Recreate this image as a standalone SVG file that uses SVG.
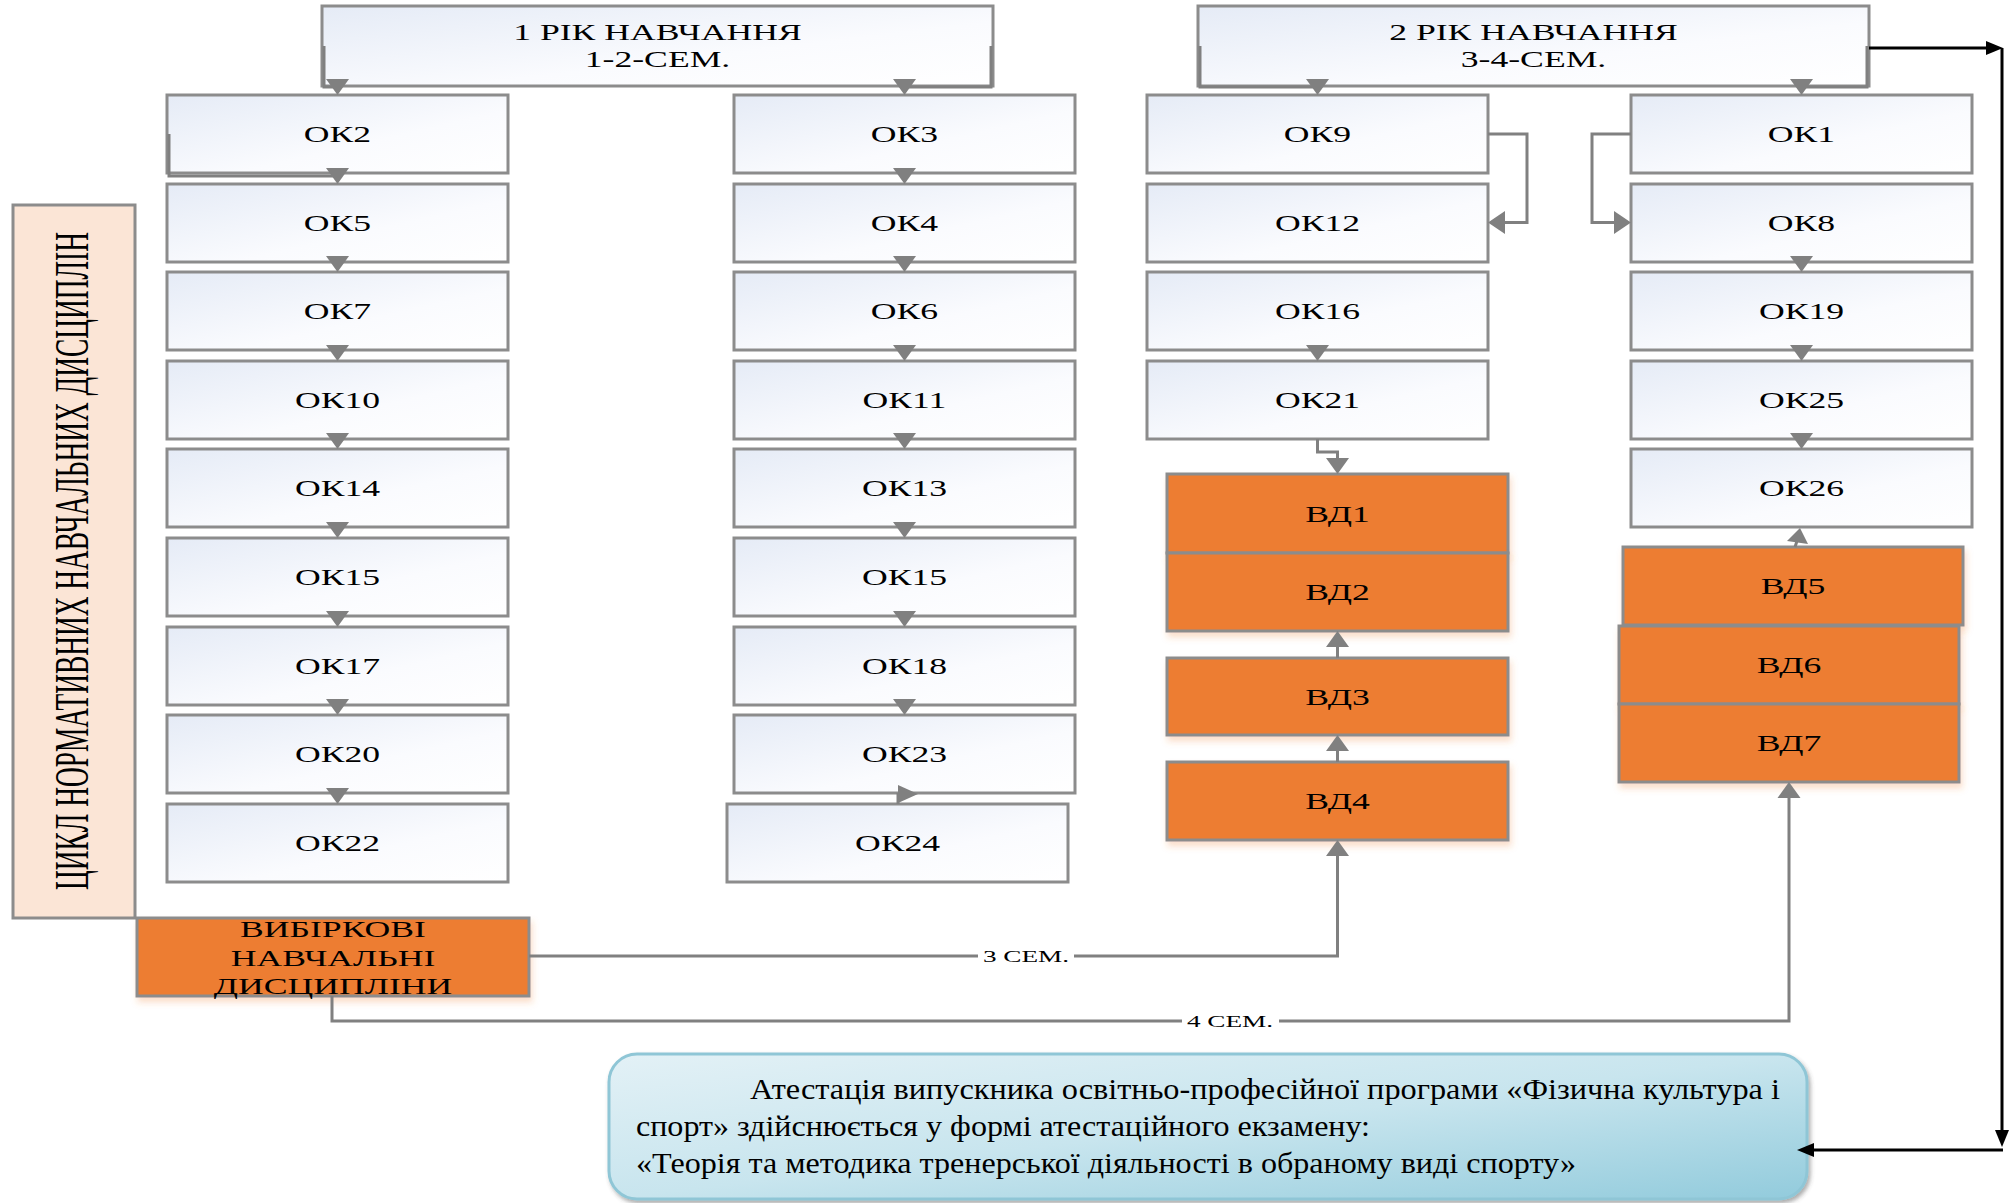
<svg xmlns="http://www.w3.org/2000/svg" width="2011" height="1203" viewBox="0 0 2011 1203">
<defs>
<linearGradient id="gBox" x1="0" y1="0" x2="1" y2="1">
<stop offset="0" stop-color="#E5EBF6"/>
<stop offset="0.6" stop-color="#FAFBFE"/>
<stop offset="1" stop-color="#FFFFFF"/>
</linearGradient>
<linearGradient id="gAtt" x1="0" y1="0" x2="1" y2="1">
<stop offset="0" stop-color="#E3F1F6"/>
<stop offset="0.5" stop-color="#C8E5EE"/>
<stop offset="1" stop-color="#92CBDC"/>
</linearGradient>
<filter id="shO" x="-10%" y="-10%" width="120%" height="130%">
<feDropShadow dx="2" dy="5" stdDeviation="3" flood-color="#ED7D31" flood-opacity="0.25"/>
</filter>
<filter id="shB" x="-5%" y="-10%" width="110%" height="125%">
<feDropShadow dx="2" dy="3" stdDeviation="2" flood-color="#444" flood-opacity="0.45"/>
</filter>
</defs>
<style>
.box{fill:url(#gBox);stroke:#8C8C8C;stroke-width:3}
.or{fill:#ED7D31;stroke:#8C8C8C;stroke-width:3}
.lbl{font-family:"Liberation Serif","Times New Roman",serif;font-size:23px;text-anchor:middle;fill:#000}
.sm{font-family:"Liberation Serif","Times New Roman",serif;font-size:17px;text-anchor:middle;fill:#000}
.att{font-family:"Liberation Serif","Times New Roman",serif;font-size:30px;fill:#000}
.cn{fill:none;stroke:#808080;stroke-width:3}
.ah{fill:#808080}
.bk{fill:none;stroke:#000;stroke-width:3}
.bh{fill:#000}
</style>

<g id="header1">
<rect class="box" x="322" y="6" width="671" height="80"/>
<text class="lbl" transform="translate(657.5,40) scale(1.55,1)">1 РІК НАВЧАННЯ</text>
<text class="lbl" transform="translate(657.5,67) scale(1.55,1)">1-2-СЕМ.</text>
</g>
<g id="header2">
<rect class="box" x="1198" y="6" width="671" height="80"/>
<text class="lbl" transform="translate(1533.5,40) scale(1.55,1)">2 РІК НАВЧАННЯ</text>
<text class="lbl" transform="translate(1533.5,67) scale(1.55,1)">3-4-СЕМ.</text>
</g>

<g id="cycle">
<rect x="13" y="205" width="122" height="713" fill="#FBE5D6" stroke="#8C8C8C" stroke-width="3"/>
<text class="lbl" style="font-size:48px" transform="translate(88,561) rotate(-90) scale(0.57,1)">ЦИКЛ НОРМАТИВНИХ НАВЧАЛЬНИХ ДИСЦИПЛІН</text>
</g>

<g id="col1">
<g id="ok2"><rect class="box" x="167" y="95" width="341" height="78"/><text class="lbl" transform="translate(337.5,142) scale(1.55,1)">ОК2</text></g>
<g id="ok5"><rect class="box" x="167" y="184" width="341" height="78"/><text class="lbl" transform="translate(337.5,231) scale(1.55,1)">ОК5</text></g>
<g id="ok7"><rect class="box" x="167" y="272" width="341" height="78"/><text class="lbl" transform="translate(337.5,319) scale(1.55,1)">ОК7</text></g>
<g id="ok10"><rect class="box" x="167" y="361" width="341" height="78"/><text class="lbl" transform="translate(337.5,408) scale(1.55,1)">ОК10</text></g>
<g id="ok14"><rect class="box" x="167" y="449" width="341" height="78"/><text class="lbl" transform="translate(337.5,496) scale(1.55,1)">ОК14</text></g>
<g id="ok15a"><rect class="box" x="167" y="538" width="341" height="78"/><text class="lbl" transform="translate(337.5,585) scale(1.55,1)">ОК15</text></g>
<g id="ok17"><rect class="box" x="167" y="627" width="341" height="78"/><text class="lbl" transform="translate(337.5,674) scale(1.55,1)">ОК17</text></g>
<g id="ok20"><rect class="box" x="167" y="715" width="341" height="78"/><text class="lbl" transform="translate(337.5,762) scale(1.55,1)">ОК20</text></g>
<g id="ok22"><rect class="box" x="167" y="804" width="341" height="78"/><text class="lbl" transform="translate(337.5,851) scale(1.55,1)">ОК22</text></g>
</g>

<g id="col2">
<g id="ok3"><rect class="box" x="734" y="95" width="341" height="78"/><text class="lbl" transform="translate(904.5,142) scale(1.55,1)">ОК3</text></g>
<g id="ok4"><rect class="box" x="734" y="184" width="341" height="78"/><text class="lbl" transform="translate(904.5,231) scale(1.55,1)">ОК4</text></g>
<g id="ok6"><rect class="box" x="734" y="272" width="341" height="78"/><text class="lbl" transform="translate(904.5,319) scale(1.55,1)">ОК6</text></g>
<g id="ok11"><rect class="box" x="734" y="361" width="341" height="78"/><text class="lbl" transform="translate(904.5,408) scale(1.55,1)">ОК11</text></g>
<g id="ok13"><rect class="box" x="734" y="449" width="341" height="78"/><text class="lbl" transform="translate(904.5,496) scale(1.55,1)">ОК13</text></g>
<g id="ok15b"><rect class="box" x="734" y="538" width="341" height="78"/><text class="lbl" transform="translate(904.5,585) scale(1.55,1)">ОК15</text></g>
<g id="ok18"><rect class="box" x="734" y="627" width="341" height="78"/><text class="lbl" transform="translate(904.5,674) scale(1.55,1)">ОК18</text></g>
<g id="ok23"><rect class="box" x="734" y="715" width="341" height="78"/><text class="lbl" transform="translate(904.5,762) scale(1.55,1)">ОК23</text></g>
<g id="ok24"><rect class="box" x="727" y="804" width="341" height="78"/><text class="lbl" transform="translate(897.5,851) scale(1.55,1)">ОК24</text></g>
</g>

<g id="col3">
<g id="ok9"><rect class="box" x="1147" y="95" width="341" height="78"/><text class="lbl" transform="translate(1317.5,142) scale(1.55,1)">ОК9</text></g>
<g id="ok12"><rect class="box" x="1147" y="184" width="341" height="78"/><text class="lbl" transform="translate(1317.5,231) scale(1.55,1)">ОК12</text></g>
<g id="ok16"><rect class="box" x="1147" y="272" width="341" height="78"/><text class="lbl" transform="translate(1317.5,319) scale(1.55,1)">ОК16</text></g>
<g id="ok21"><rect class="box" x="1147" y="361" width="341" height="78"/><text class="lbl" transform="translate(1317.5,408) scale(1.55,1)">ОК21</text></g>
<g id="vd1"><rect class="or" filter="url(#shO)" x="1167" y="474" width="341" height="79"/><text class="lbl" transform="translate(1337.5,522) scale(1.55,1)">ВД1</text></g>
<g id="vd2"><rect class="or" filter="url(#shO)" x="1167" y="553" width="341" height="78"/><text class="lbl" transform="translate(1337.5,600) scale(1.55,1)">ВД2</text></g>
<g id="vd3"><rect class="or" filter="url(#shO)" x="1167" y="658" width="341" height="77"/><text class="lbl" transform="translate(1337.5,705) scale(1.55,1)">ВД3</text></g>
<g id="vd4"><rect class="or" filter="url(#shO)" x="1167" y="762" width="341" height="78"/><text class="lbl" transform="translate(1337.5,809) scale(1.55,1)">ВД4</text></g>
</g>

<g id="col4">
<g id="ok1"><rect class="box" x="1631" y="95" width="341" height="78"/><text class="lbl" transform="translate(1801.5,142) scale(1.55,1)">ОК1</text></g>
<g id="ok8"><rect class="box" x="1631" y="184" width="341" height="78"/><text class="lbl" transform="translate(1801.5,231) scale(1.55,1)">ОК8</text></g>
<g id="ok19"><rect class="box" x="1631" y="272" width="341" height="78"/><text class="lbl" transform="translate(1801.5,319) scale(1.55,1)">ОК19</text></g>
<g id="ok25"><rect class="box" x="1631" y="361" width="341" height="78"/><text class="lbl" transform="translate(1801.5,408) scale(1.55,1)">ОК25</text></g>
<g id="ok26"><rect class="box" x="1631" y="449" width="341" height="78"/><text class="lbl" transform="translate(1801.5,496) scale(1.55,1)">ОК26</text></g>
<g id="vd5"><rect class="or" filter="url(#shO)" x="1623" y="547" width="340" height="78"/><text class="lbl" transform="translate(1793,594) scale(1.55,1)">ВД5</text></g>
<g id="vd6"><rect class="or" filter="url(#shO)" x="1619" y="626" width="340" height="78"/><text class="lbl" transform="translate(1789,673) scale(1.55,1)">ВД6</text></g>
<g id="vd7"><rect class="or" filter="url(#shO)" x="1619" y="704" width="340" height="78"/><text class="lbl" transform="translate(1789,751) scale(1.55,1)">ВД7</text></g>
</g>

<g id="elective">
<rect class="or" filter="url(#shO)" x="137" y="918" width="392" height="78"/>
<text class="lbl" transform="translate(333,937) scale(1.55,1)">ВИБІРКОВІ</text>
<text class="lbl" transform="translate(333,966) scale(1.55,1)">НАВЧАЛЬНІ</text>
<text class="lbl" transform="translate(333,994) scale(1.55,1)">ДИСЦИПЛІНИ</text>
</g>

<g id="attestation">
<rect x="609" y="1054" width="1198" height="145" rx="28" ry="28" fill="url(#gAtt)" stroke="#8FC6D6" stroke-width="3" filter="url(#shB)"/>
<text class="att" x="750" y="1099" textLength="1030" lengthAdjust="spacingAndGlyphs">Атестація випускника освітньо-професійної програми «Фізична культура і</text>
<text class="att" x="636" y="1136" textLength="734" lengthAdjust="spacingAndGlyphs">спорт» здійснюється у формі атестаційного екзамену:</text>
<text class="att" x="636" y="1173" textLength="940" lengthAdjust="spacingAndGlyphs">«Теорія та методика тренерської діяльності в обраному виді спорту»</text>
</g>

<g id="connectors">
<!-- header 1 -->
<path class="cn" d="M324,46 V87 H338"/>
<path class="cn" d="M991,46 V87 H904.5"/>
<polygon class="ah" points="326,79 349,79 337.5,95"/>
<polygon class="ah" points="893,79 916,79 904.5,95"/>
<!-- header 2 -->
<path class="cn" d="M1200,46 V87 H1317.5"/>
<path class="cn" d="M1867,46 V87 H1801.5"/>
<polygon class="ah" points="1306,79 1329,79 1317.5,95"/>
<polygon class="ah" points="1790,79 1813,79 1801.5,95"/>
<!-- OK2 hook -->
<path class="cn" d="M169,134 V176 H338"/>
<!-- column 1 arrows -->
<polygon class="ah" points="326,168 349,168 337.5,184"/>
<polygon class="ah" points="326,256 349,256 337.5,272"/>
<polygon class="ah" points="326,345 349,345 337.5,361"/>
<polygon class="ah" points="326,433 349,433 337.5,449"/>
<polygon class="ah" points="326,522 349,522 337.5,538"/>
<polygon class="ah" points="326,611 349,611 337.5,627"/>
<polygon class="ah" points="326,699 349,699 337.5,715"/>
<polygon class="ah" points="326,788 349,788 337.5,804"/>
<!-- column 2 arrows -->
<polygon class="ah" points="893,168 916,168 904.5,184"/>
<polygon class="ah" points="893,256 916,256 904.5,272"/>
<polygon class="ah" points="893,345 916,345 904.5,361"/>
<polygon class="ah" points="893,433 916,433 904.5,449"/>
<polygon class="ah" points="893,522 916,522 904.5,538"/>
<polygon class="ah" points="893,611 916,611 904.5,627"/>
<polygon class="ah" points="893,699 916,699 904.5,715"/>
<path class="cn" d="M898,793 V804"/>
<polygon class="ah" points="898,785 898,803 918,794"/>
<!-- column 3 -->
<path class="cn" d="M1488,134 H1527 V222.6 H1502"/>
<polygon class="ah" points="1505,211 1505,234 1488,222.6"/>
<polygon class="ah" points="1306,345 1329,345 1317.5,361"/>
<path class="cn" d="M1317.5,439 V452 H1337.5 V462"/>
<polygon class="ah" points="1326,458 1349,458 1337.5,474"/>
<polygon class="ah" points="1326,647 1349,647 1337.5,631"/>
<path class="cn" d="M1337.5,645 V658"/>
<polygon class="ah" points="1326,751 1349,751 1337.5,735"/>
<path class="cn" d="M1337.5,749 V762"/>
<!-- column 4 -->
<path class="cn" d="M1631,134 H1592 V222.6 H1616"/>
<polygon class="ah" points="1614,211 1614,234 1631,222.6"/>
<polygon class="ah" points="1790,256 1813,256 1801.5,272"/>
<polygon class="ah" points="1790,345 1813,345 1801.5,361"/>
<polygon class="ah" points="1790,433 1813,433 1801.5,449"/>
<path class="cn" d="M1795,547 L1798,538"/>
<polygon class="ah" points="1787,541 1808,544 1800,528"/>
<!-- elective connectors -->
<path class="cn" d="M529,956 H1337.5 V852"/>
<polygon class="ah" points="1326,856 1349,856 1337.5,840"/>
<path class="cn" d="M332,996 V1021 H1789 V794"/>
<polygon class="ah" points="1777.5,798 1800.5,798 1789,782"/>
<rect x="978" y="946" width="96" height="19" fill="#FFFFFF"/>
<text class="sm" transform="translate(1026,962) scale(1.6,1)">3 СЕМ.</text>
<rect x="1182" y="1011" width="97" height="19" fill="#FFFFFF"/>
<text class="sm" transform="translate(1230,1027) scale(1.6,1)">4 СЕМ.</text>
<!-- black connectors -->
<path class="bk" d="M1869,48 H1988"/>
<polygon class="bh" points="1986,41 1986,55 2003,48"/>
<path class="bk" d="M2002,48 V1132"/>
<polygon class="bh" points="1995,1130 2009,1130 2002,1147"/>
<path class="bk" d="M2003,1150 H1812"/>
<polygon class="bh" points="1814,1143 1814,1157 1797,1150"/>
</g>
</svg>
